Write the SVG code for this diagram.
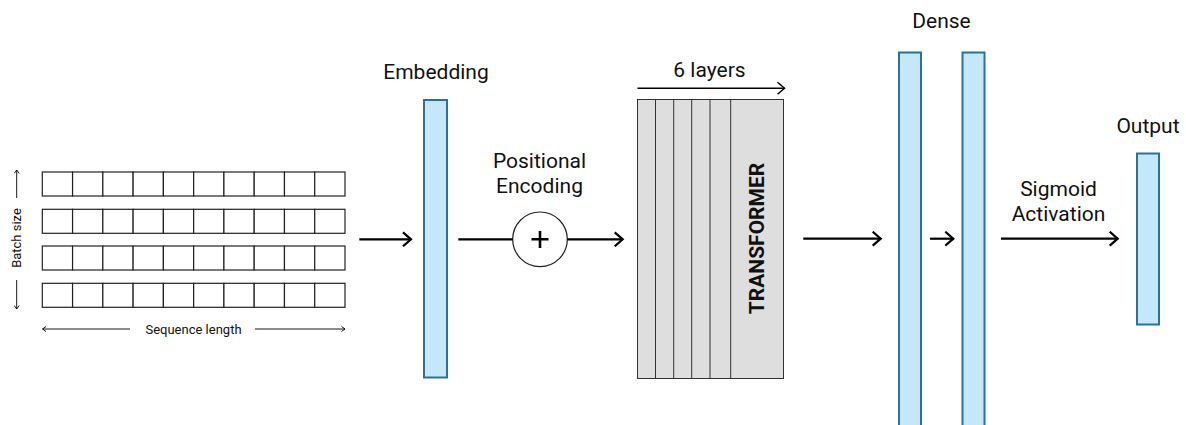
<svg xmlns="http://www.w3.org/2000/svg" width="1186" height="425" viewBox="0 0 1186 425">
<defs>
<marker id="chev" viewBox="0 0 10 14" refX="9" refY="7" markerWidth="10" markerHeight="14" markerUnits="userSpaceOnUse" orient="auto">
<path d="M2,1 L9,7 L2,13" fill="none" stroke="#000" stroke-width="1.5"/>
</marker>
<marker id="chevL" viewBox="0 0 16 16" refX="14" refY="8" markerWidth="16" markerHeight="16" markerUnits="userSpaceOnUse" orient="auto">
<path d="M6,1 L14,8 L6,15" fill="none" stroke="#000" stroke-width="2.2"/>
</marker>
<marker id="chevS" viewBox="0 0 6 6" refX="5.5" refY="3" markerWidth="6" markerHeight="6" markerUnits="userSpaceOnUse" orient="auto">
<path d="M2,0.5 L5.5,3 L2,5.5" fill="none" stroke="#000" stroke-width="0.9"/>
</marker>
</defs>
<style>
text{font-family:Roboto,"Liberation Sans",sans-serif;fill:#111;}
.lbl{font-size:21px;text-anchor:middle;}
.sm{font-size:13px;text-anchor:middle;}
.cell{fill:#fff;stroke:#222;stroke-width:1.2;}
.bar{fill:#c4e7fb;stroke:#2a7396;stroke-width:2;}
.conn{stroke:#000;stroke-width:2.2;fill:none;}
.thin{stroke:#000;stroke-width:0.9;fill:none;}
.layer{fill:#dedede;stroke:#333;stroke-width:1;}
</style>

<g id="input">
<g id="grid">
<rect class="cell" x="42.3" y="172" width="30.27" height="24"/><rect class="cell" x="72.57" y="172" width="30.27" height="24"/><rect class="cell" x="102.84" y="172" width="30.27" height="24"/><rect class="cell" x="133.11" y="172" width="30.27" height="24"/><rect class="cell" x="163.38" y="172" width="30.27" height="24"/><rect class="cell" x="193.65" y="172" width="30.27" height="24"/><rect class="cell" x="223.92" y="172" width="30.27" height="24"/><rect class="cell" x="254.19" y="172" width="30.27" height="24"/><rect class="cell" x="284.46" y="172" width="30.27" height="24"/><rect class="cell" x="314.73" y="172" width="30.27" height="24"/>
<rect class="cell" x="42.3" y="209.3" width="30.27" height="24"/><rect class="cell" x="72.57" y="209.3" width="30.27" height="24"/><rect class="cell" x="102.84" y="209.3" width="30.27" height="24"/><rect class="cell" x="133.11" y="209.3" width="30.27" height="24"/><rect class="cell" x="163.38" y="209.3" width="30.27" height="24"/><rect class="cell" x="193.65" y="209.3" width="30.27" height="24"/><rect class="cell" x="223.92" y="209.3" width="30.27" height="24"/><rect class="cell" x="254.19" y="209.3" width="30.27" height="24"/><rect class="cell" x="284.46" y="209.3" width="30.27" height="24"/><rect class="cell" x="314.73" y="209.3" width="30.27" height="24"/>
<rect class="cell" x="42.3" y="246" width="30.27" height="24"/><rect class="cell" x="72.57" y="246" width="30.27" height="24"/><rect class="cell" x="102.84" y="246" width="30.27" height="24"/><rect class="cell" x="133.11" y="246" width="30.27" height="24"/><rect class="cell" x="163.38" y="246" width="30.27" height="24"/><rect class="cell" x="193.65" y="246" width="30.27" height="24"/><rect class="cell" x="223.92" y="246" width="30.27" height="24"/><rect class="cell" x="254.19" y="246" width="30.27" height="24"/><rect class="cell" x="284.46" y="246" width="30.27" height="24"/><rect class="cell" x="314.73" y="246" width="30.27" height="24"/>
<rect class="cell" x="42.3" y="283.3" width="30.27" height="24"/><rect class="cell" x="72.57" y="283.3" width="30.27" height="24"/><rect class="cell" x="102.84" y="283.3" width="30.27" height="24"/><rect class="cell" x="133.11" y="283.3" width="30.27" height="24"/><rect class="cell" x="163.38" y="283.3" width="30.27" height="24"/><rect class="cell" x="193.65" y="283.3" width="30.27" height="24"/><rect class="cell" x="223.92" y="283.3" width="30.27" height="24"/><rect class="cell" x="254.19" y="283.3" width="30.27" height="24"/><rect class="cell" x="284.46" y="283.3" width="30.27" height="24"/><rect class="cell" x="314.73" y="283.3" width="30.27" height="24"/>
</g>
<text class="sm" transform="translate(20.5,238) rotate(-90)">Batch size</text>
<line class="thin" x1="16.7" y1="198" x2="16.7" y2="170" marker-end="url(#chevS)"/>
<line class="thin" x1="16.7" y1="280" x2="16.7" y2="309" marker-end="url(#chevS)"/>
<text class="sm" x="193.5" y="333.5">Sequence length</text>
<line class="thin" x1="130" y1="329" x2="42.5" y2="329" marker-end="url(#chevS)"/>
<line class="thin" x1="255" y1="329" x2="345" y2="329" marker-end="url(#chevS)"/>
</g>

<g id="embedding">
<rect class="bar" x="424" y="100" width="23" height="277.5"/>
<text class="lbl" x="436" y="79">Embedding</text>
</g>

<g id="positional-encoding">
<circle cx="540" cy="239.3" r="27.3" fill="#fff" stroke="#222" stroke-width="1.2"/>
<path d="M540,231 V248 M531.5,239.3 H548.5" stroke="#000" stroke-width="2.6" fill="none"/>
<text class="lbl" x="539.5" y="168.3">Positional</text>
<text class="lbl" x="539.5" y="192.5">Encoding</text>
</g>

<g id="transformer">
<rect class="layer" x="637.5" y="99.5" width="146" height="279"/>
<line x1="655.5" y1="99.5" x2="655.5" y2="378.5" stroke="#333" stroke-width="1"/>
<line x1="673.7" y1="99.5" x2="673.7" y2="378.5" stroke="#333" stroke-width="1"/>
<line x1="691.7" y1="99.5" x2="691.7" y2="378.5" stroke="#333" stroke-width="1"/>
<line x1="710" y1="99.5" x2="710" y2="378.5" stroke="#333" stroke-width="1"/>
<line x1="730.7" y1="99.5" x2="730.7" y2="378.5" stroke="#333" stroke-width="1"/>
<text transform="translate(764,238.5) rotate(-90)" font-size="21" font-weight="bold" text-anchor="middle">TRANSFORMER</text>
<text class="lbl" x="709.5" y="77">6 layers</text>
<line x1="637.5" y1="88.3" x2="784.5" y2="88.3" stroke="#000" stroke-width="1.4" marker-end="url(#chev)"/>
</g>

<g id="dense1">
<rect class="bar" x="899" y="52.5" width="22" height="380"/>
<text class="lbl" x="941.5" y="27.5">Dense</text>
</g>
<g id="dense2">
<rect class="bar" x="962.5" y="52.5" width="22" height="380"/>
</g>

<g id="output">
<rect class="bar" x="1137" y="153.5" width="22" height="171"/>
<text class="lbl" x="1148" y="132.5">Output</text>
</g>

<g id="connectors">
<line class="conn" x1="359.3" y1="239.3" x2="411" y2="239.3" marker-end="url(#chevL)"/>
<line class="conn" x1="458.3" y1="239.3" x2="512.7" y2="239.3"/>
<line class="conn" x1="567.3" y1="239.3" x2="622.7" y2="239.3" marker-end="url(#chevL)"/>
<line class="conn" x1="803.3" y1="238.7" x2="880.7" y2="238.7" marker-end="url(#chevL)"/>
<line class="conn" x1="930" y1="238.7" x2="953.3" y2="238.7" marker-end="url(#chevL)"/>
<line class="conn" x1="1001" y1="238.7" x2="1117.7" y2="238.7" marker-end="url(#chevL)"/>
<text class="lbl" x="1058.5" y="196">Sigmoid</text>
<text class="lbl" x="1058.5" y="220.7">Activation</text>
</g>
</svg>
